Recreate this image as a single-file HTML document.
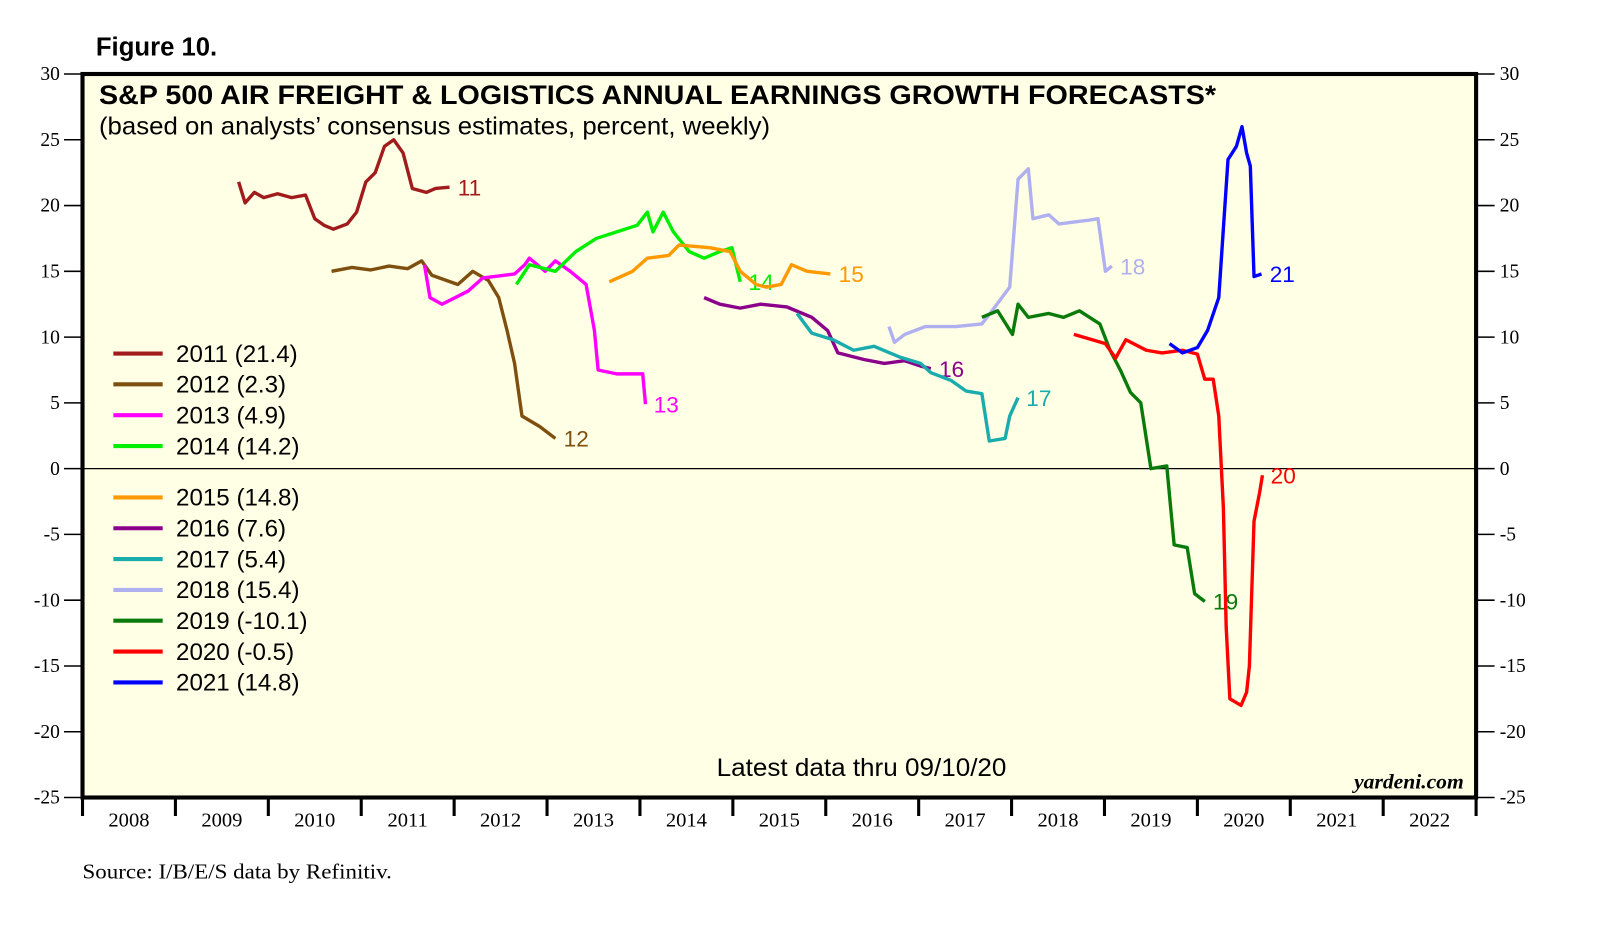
<!DOCTYPE html>
<html><head><meta charset="utf-8"><style>
html,body{margin:0;padding:0;background:#fff;}
svg{display:block;}
text{font-family:"Liberation Sans",sans-serif;}
.serif{font-family:"Liberation Serif",serif;}
</style></head><body>
<svg id="chart" width="1610" height="927" viewBox="0 0 1566 902" xmlns="http://www.w3.org/2000/svg">
<text x="93" y="54" font-size="25" font-weight="bold">Figure 10.</text>
<rect x="80" y="72" width="1356" height="704" fill="#ffffe6" stroke="#000" stroke-width="4"/>
<g id="axes"></g>
<g id="series"></g>
<text x="96" y="101" font-size="26" font-weight="bold" textLength="1087" lengthAdjust="spacingAndGlyphs">S&amp;P 500 AIR FREIGHT &amp; LOGISTICS ANNUAL EARNINGS GROWTH FORECASTS*</text>
<text x="96" y="131" font-size="24" textLength="653" lengthAdjust="spacingAndGlyphs">(based on analysts’ consensus estimates, percent, weekly)</text>
<text x="697" y="755" font-size="24" textLength="282" lengthAdjust="spacingAndGlyphs">Latest data thru 09/10/20</text>
<text class="serif" x="1424" y="767" font-size="21" font-style="italic" font-weight="bold" text-anchor="end">yardeni.com</text>
<text class="serif" x="80" y="855" font-size="21" textLength="301" lengthAdjust="spacingAndGlyphs">Source: I/B/E/S data by Refinitiv.</text>
<g id="legend"></g>
</svg>
<script>
const yTicks=[30,25,20,15,10,5,0,-5,-10,-15,-20,-25];
const years=[2008,2009,2010,2011,2012,2013,2014,2015,2016,2017,2018,2019,2020,2021,2022];
const seriesNames=["2011","2012","2013","2014","2015","2016","2017","2018","2019","2020","2021"];
const legendValues=["21.4","2.3","4.9","14.2","14.8","7.6","5.4","15.4","-10.1","-0.5","14.8"];
const endLabels=["11","12","13","14","15","16","17","18","19","20","21"];
const colors=["#a01c1c","#7f4f0f","#ff00ff","#00ee00","#ff9900","#8b008b","#1aacac","#b0b0f0","#0a7a0a","#ff0000","#0000ff"];
const t2011=[2009.68,2009.75,2009.85,2009.95,2010.1,2010.25,2010.4,2010.5,2010.6,2010.7,2010.85,2010.95,2011.05,2011.15,2011.25,2011.35,2011.45,2011.55,2011.7,2011.8,2011.95];
const v2011=[21.8,20.2,21,20.6,20.9,20.6,20.8,19,18.5,18.2,18.6,19.5,21.8,22.5,24.5,25,24,21.3,21,21.3,21.4];
const t2012=[2010.68,2010.9,2011.1,2011.3,2011.5,2011.65,2011.76,2012.04,2012.2,2012.37,2012.48,2012.57,2012.65,2012.73,2012.92,2013.09];
const v2012=[15,15.3,15.1,15.4,15.2,15.8,14.7,14,15,14.3,13,10.5,8,4,3.2,2.3];
const t2013=[2011.68,2011.74,2011.87,2012.15,2012.31,2012.65,2012.76,2012.81,2012.98,2013.09,2013.25,2013.42,2013.51,2013.55,2013.75,2014.03,2014.06];
const v2013=[15.5,13,12.5,13.5,14.5,14.8,15.5,16,15,15.8,15,14,10.5,7.5,7.2,7.2,4.9];
const t2014=[2012.67,2012.81,2013.09,2013.31,2013.53,2013.75,2013.97,2014.08,2014.14,2014.25,2014.36,2014.53,2014.69,2014.86,2014.99,2015.08];
const v2014=[14,15.5,15,16.5,17.5,18,18.5,19.5,18,19.5,18,16.5,16,16.5,16.8,14.2];
const t2015=[2013.67,2013.92,2014.08,2014.31,2014.42,2014.75,2014.97,2015.08,2015.25,2015.36,2015.52,2015.63,2015.8,2016.05];
const v2015=[14.2,15,16,16.2,17,16.8,16.5,15,14,13.8,14,15.5,15,14.8];
const t2016=[2014.69,2014.86,2015.08,2015.3,2015.58,2015.85,2016.02,2016.13,2016.41,2016.63,2016.85,2017.02,2017.13];
const v2016=[13,12.5,12.2,12.5,12.3,11.5,10.5,8.8,8.3,8,8.2,7.8,7.6];
const t2017=[2015.69,2015.85,2016.08,2016.3,2016.52,2016.79,2017.02,2017.13,2017.35,2017.51,2017.68,2017.76,2017.93,2017.98,2018.07];
const v2017=[11.8,10.3,9.8,9,9.3,8.5,8,7.3,6.7,5.9,5.7,2.1,2.3,4,5.4];
const t2018=[2016.68,2016.74,2016.85,2017.07,2017.4,2017.68,2017.79,2017.98,2018.07,2018.18,2018.23,2018.4,2018.51,2018.84,2018.93,2019.01,2019.08];
const v2018=[10.8,9.6,10.2,10.8,10.8,11,12,13.8,22,22.8,19,19.3,18.6,18.9,19,15,15.4];
const t2019=[2017.68,2017.85,2018.01,2018.07,2018.18,2018.4,2018.56,2018.73,2018.95,2019.06,2019.17,2019.28,2019.39,2019.5,2019.67,2019.75,2019.89,2019.97,2020.08];
const v2019=[11.5,12,10.2,12.5,11.5,11.8,11.5,12,11,9,7.5,5.8,5,0,0.2,-5.8,-6,-9.5,-10.1];
const t2020=[2018.67,2019.01,2019.12,2019.23,2019.45,2019.62,2019.84,2020.0,2020.08,2020.17,2020.23,2020.28,2020.31,2020.35,2020.47,2020.53,2020.56,2020.61,2020.67,2020.7];
const v2020=[10.2,9.5,8.4,9.8,9,8.8,9,8.7,6.8,6.8,4,-3,-12,-17.5,-18,-17,-15,-4,-1.8,-0.5];
const t2021=[2019.7,2019.84,2020.0,2020.11,2020.23,2020.33,2020.42,2020.48,2020.53,2020.57,2020.61,2020.69];
const v2021=[9.5,8.8,9.2,10.5,13,23.5,24.5,26,24,23,14.6,14.8];
const allT=[t2011,t2012,t2013,t2014,t2015,t2016,t2017,t2018,t2019,t2020,t2021];
const allV=[v2011,v2012,v2013,v2014,v2015,v2016,v2017,v2018,v2019,v2020,v2021];

const NS="http://www.w3.org/2000/svg";
const X0=80,X1=1436,Y0=72,Y1=776;
function xs(t){return X0+(t-2008)/15*(X1-X0);}
function ys(v){return Y0+(30-v)/55*(Y1-Y0);}
function mk(tag,attrs,parent,txt){const e=document.createElementNS(NS,tag);for(const k in attrs)e.setAttribute(k,attrs[k]);if(txt!==undefined)e.textContent=txt;parent.appendChild(e);return e;}
const axes=document.getElementById('axes');
yTicks.forEach(v=>{
  const y=ys(v);
  let l=mk('line',{x1:62,x2:80,y1:y,y2:y,stroke:'#000','stroke-width':1.5},axes);
  
  
  let r=mk('line',{x1:1436,x2:1454,y1:y,y2:y,stroke:'#000','stroke-width':1.5},axes);
  
  
  let a=mk('text',{x:58,y:y+6,'font-size':19,'text-anchor':'end',class:'serif'},axes,String(v));
  
  
  let b=mk('text',{x:1459,y:y+6,'font-size':19,class:'serif'},axes,String(v));
  
  
});
let z=mk('line',{x1:X0,x2:X1,y1:ys(0),y2:ys(0),stroke:'#000','stroke-width':1.2},axes);


for(let i=0;i<=years.length;i++){
  const x=xs(2008+i);
  let t=mk('line',{x1:x,x2:x,y1:776,y2:794,stroke:'#000','stroke-width':3},axes);
  
  
}
years.forEach(yr=>{
  let t=mk('text',{x:xs(yr+0.5),y:804,'font-size':20,'text-anchor':'middle',class:'serif'},axes,String(yr));
  
  
});
const sg=document.getElementById('series');
allT.forEach((ts,i)=>{
  const vs=allV[i];
  let d='';
  ts.forEach((t,j)=>{d+=(j?'L':'M')+xs(t).toFixed(1)+','+ys(vs[j]).toFixed(1);});
  let p=mk('path',{d:d,fill:'none',stroke:colors[i],'stroke-width':3.3,'stroke-linejoin':'round'},sg);
  
  
  const lt=ts[ts.length-1],lv=vs[vs.length-1];
  let lb=mk('text',{x:xs(lt)+8,y:ys(lv)+8,'font-size':22,fill:colors[i]},sg,endLabels[i]);
  
  
});
const lg=document.getElementById('legend');
seriesNames.forEach((n,i)=>{
  const y=344+i*30+(i>=4?20:0);
  let g=mk('g',{},lg);
  
  
  mk('line',{x1:110,x2:158,y1:y,y2:y,stroke:colors[i],'stroke-width':4},g);
  mk('text',{x:171,y:y+8,'font-size':23.5},g,n+' ('+legendValues[i]+')');
});
</script>
</body></html>
